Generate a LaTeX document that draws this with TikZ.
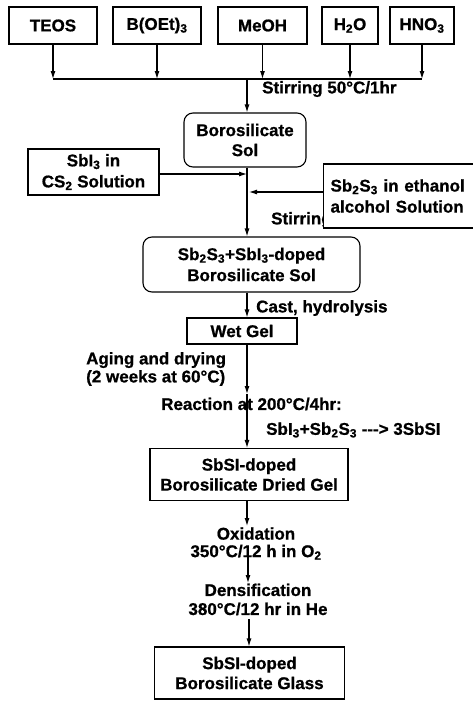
\documentclass[tikz,border=0pt]{standalone}
\usepackage{fontspec}
\setmainfont{Liberation Sans}[BoldFeatures={FakeBold=0.8}]
\usetikzlibrary{arrows.meta}
\newcommand\dn[1]{\textsubscript{#1}}
\begin{document}
\begin{tikzpicture}[x=1pt,y=-1pt,
  font=\fontsize{17}{20}\selectfont\bfseries,
  every node/.style={inner sep=0pt},
  box/.style={draw, line width=1.1pt, align=center},
  rbox/.style={box, rounded corners=9pt},
  arr/.style={-{Latex[length=8pt,width=5pt]}, line width=1.1pt},
  ln/.style={line width=1.1pt},
  lbl/.style={align=left}]
\useasboundingbox (0,0) rectangle (473,701);
% top inputs
\node[box, minimum width=88pt, minimum height=37pt] (teos) at (53,25.5) {TEOS};
\node[box, minimum width=88pt, minimum height=37pt] (boet) at (157,25.5) {B(OEt)\dn{3}};
\node[box, minimum width=89pt, minimum height=37pt] (meoh) at (262.5,25.5) {MeOH};
\node[box, minimum width=56pt, minimum height=37pt] (h2o) at (350,25.5) {H\dn{2}O};
\node[box, minimum width=64pt, minimum height=37pt] (hno3) at (422,25.5) {HNO\dn{3}};
\coordinate (bar) at (0,79);
\coordinate (trunk) at (247,79);
\foreach \n in {teos,boet,meoh,h2o,hno3}{
  \draw[arr] (\n.south) -- (\n.south |- bar);
}
\draw[ln] (teos.south |- bar) -- (hno3.south |- bar);
\node[lbl, anchor=west] (stir1) at (262,89) {Stirring 50°C/1hr};
% borosilicate sol
\node[rbox, minimum width=122pt, minimum height=54pt] (boro) at (245,140) {Borosilicate\\Sol};
\draw[arr] (trunk) -- (trunk |- boro.north);
% additives
\node[box, minimum width=131pt, minimum height=46pt] (sbi3) at (93.5,172) {SbI\dn{3} in\\[1pt]CS\dn{2} Solution};
\node[lbl, anchor=west] (stir2) at (271,220) {Stirring};
\node[box, fill=white, anchor=west, align=left, text width=150pt, inner xsep=7pt, minimum height=64pt] (sb2s3) at (323,196) {Sb\dn{2}S\dn{3} in ethanol\\[1pt]alcohol Solution};
% doped sol
\node[rbox, minimum width=217pt, minimum height=55pt] (dsol) at (251.5,264.5) {Sb\dn{2}S\dn{3}+SbI\dn{3}-doped\\[1pt]Borosilicate Sol};
\draw[arr] (trunk |- boro.south) -- (trunk |- dsol.north);
\coordinate (j1) at (247,174);
\coordinate (j2) at (249,192);
\draw[arr] (sbi3.east |- j1) -- (j1);
\draw[arr] (sb2s3.west |- j2) -- (j2);
% wet gel
\node[box, minimum width=110pt, minimum height=26pt] (wet) at (242,331) {Wet Gel};
\draw[arr] (trunk |- dsol.south) -- (trunk |- wet.north);
\node[lbl, anchor=west] (cast) at (256,308) {Cast, hydrolysis};
% aging
\node[lbl, anchor=west, font=\fontsize{17}{18}\selectfont\bfseries] (aging) at (86,369) {Aging and drying\\(2 weeks at 60°C)};
\coordinate (r1) at (247,394);
\draw[arr] (trunk |- wet.south) -- (r1);
\node[lbl, anchor=west] (react) at (161,404) {Reaction at 200°C/4hr:};
\node[lbl, anchor=west] (eq) at (266,430) {SbI\dn{3}+Sb\dn{2}S\dn{3} -{}-{}-> 3SbSI};
% dried gel
\node[box, minimum width=198pt, minimum height=52pt] (dried) at (249,474.5) {SbSI-doped\\Borosilicate Dried Gel};
\draw[arr] (r1) -- (trunk |- dried.north);
\coordinate (o1) at (247,526);
\draw[arr] (trunk |- dried.south) -- (o1);
\node[align=center, font=\fontsize{17}{17.5}\selectfont\bfseries] (ox) at (256,543.5) {Oxidation\\350°C/12 h in O\dn{2}};
\coordinate (o2) at (248,553);
\coordinate (o3) at (248,583);
\draw[arr] (o2) -- (o3);
\node[align=center, font=\fontsize{17}{19}\selectfont\bfseries] (dens) at (258,599.5) {Densification\\380°C/12 hr in He};
\coordinate (o4) at (249,619);
% glass
\node[box, minimum width=190pt, minimum height=52pt] (glass) at (249.5,673) {SbSI-doped\\Borosilicate Glass};
\draw[arr] (o4) -- (o4 |- glass.north);
\end{tikzpicture}
\end{document}
